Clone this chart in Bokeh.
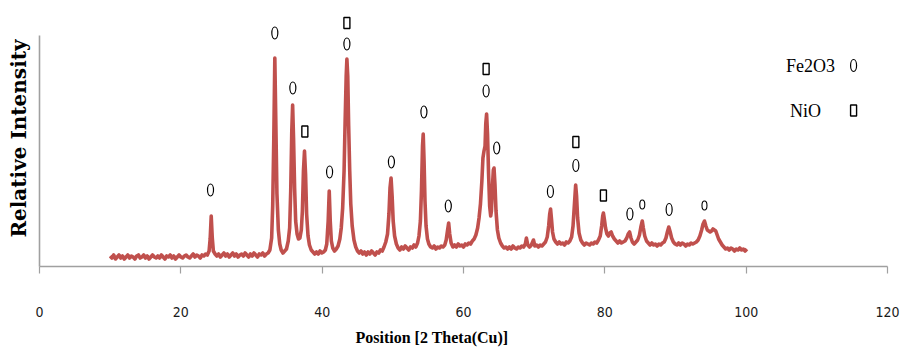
from bokeh.plotting import figure
from bokeh.models import Range1d, FixedTicker, Title
from bokeh.core.properties import value
from bokeh.embed import file_html
from bokeh.resources import INLINE

# XRD scan: (2-theta, relative intensity)
scan = [
    (10.0, 10), (10.25, 8), (10.5, 11), (10.75, 7), (11.0, 9), (11.25, 11), (11.5, 8), (11.75, 10),
    (12.0, 7), (12.25, 9), (12.5, 11), (12.75, 8), (13.0, 10), (13.25, 9), (13.5, 7), (13.75, 10),
    (14.0, 11), (14.25, 8), (14.5, 9), (14.75, 11), (15.0, 8), (15.25, 10), (15.5, 7), (15.75, 9),
    (16.0, 11), (16.25, 9), (16.5, 8), (16.75, 10), (17.0, 8), (17.25, 11), (17.5, 9), (17.75, 7),
    (18.0, 10), (18.25, 9), (18.5, 11), (18.75, 8), (19.0, 10), (19.25, 7), (19.5, 9), (19.75, 11),
    (20.0, 9), (20.25, 8), (20.5, 10), (20.75, 11), (21.0, 9), (21.25, 8), (21.5, 10), (21.75, 12),
    (22.0, 9), (22.25, 11), (22.5, 10), (22.75, 8), (23.0, 11), (23.25, 10), (23.5, 12),
    (23.75, 11), (24.0, 15), (24.15, 27), (24.3, 50), (24.45, 28), (24.6, 15), (24.85, 12),
    (25.1, 10), (25.35, 12), (25.6, 9), (25.85, 11), (26.1, 13), (26.35, 10), (26.6, 12), (26.85, 9),
    (27.1, 11), (27.35, 13), (27.6, 10), (27.85, 12), (28.1, 9), (28.35, 11), (28.6, 12), (28.85, 10),
    (29.1, 13), (29.35, 11), (29.6, 9), (29.85, 12), (30.1, 10), (30.35, 13), (30.6, 11), (30.85, 9),
    (31.1, 12), (31.35, 11), (31.6, 13), (31.85, 10), (32.1, 12), (32.35, 13), (32.6, 16),
    (32.85, 28), (33.0, 60), (33.15, 125), (33.3, 208), (33.45, 140), (33.6, 72), (33.8, 36),
    (34.0, 22), (34.2, 16), (34.45, 13), (34.7, 15), (34.95, 17), (35.2, 25),
    (35.4, 38), (35.55, 75), (35.7, 135), (35.82, 161), (35.95, 128), (36.1, 78), (36.25, 45),
    (36.45, 32), (36.65, 27), (36.85, 28), (37.05, 36), (37.2, 55),
    (37.35, 95), (37.5, 115), (37.65, 92), (37.8, 52), (38.0, 30), (38.2, 21), (38.45, 16),
    (38.7, 14), (38.95, 12), (39.2, 14), (39.45, 12), (39.7, 15), (39.95, 13), (40.2, 14),
    (40.45, 16), (40.65, 22), (40.85, 45), (41.0, 75), (41.15, 44), (41.3, 25), (41.5, 18),
    (41.75, 15), (42.0, 17), (42.25, 20), (42.5, 27), (42.7, 38), (42.9, 58), (43.1, 95),
    (43.25, 145), (43.4, 190), (43.5, 207), (43.62, 190), (43.75, 140), (43.9, 95), (44.05, 62),
    (44.25, 40), (44.5, 26), (44.75, 19), (45.0, 15),
    (45.25, 13), (45.5, 15), (45.75, 12), (46.0, 14), (46.25, 11), (46.5, 14), (46.75, 12),
    (47.0, 15), (47.25, 13), (47.5, 11), (47.75, 14), (48.0, 13), (48.25, 16), (48.5, 15), (48.75, 19),
    (49.0, 24), (49.25, 32), (49.45, 52), (49.6, 78), (49.75, 88), (49.9, 70), (50.05, 45),
    (50.25, 30), (50.5, 22), (50.75, 18), (51.0, 16),
    (51.25, 19), (51.5, 17), (51.75, 20), (52.0, 18), (52.25, 16), (52.5, 19), (52.75, 18),
    (53.0, 21), (53.25, 19), (53.5, 23),
    (53.7, 30), (53.9, 45), (54.05, 75), (54.2, 120), (54.3, 132), (54.42, 105), (54.55, 65),
    (54.7, 40), (54.9, 27), (55.1, 22), (55.35, 19),
    (55.6, 18), (55.85, 20), (56.1, 17), (56.35, 19), (56.6, 18), (56.85, 20), (57.1, 19),
    (57.35, 21), (57.55, 26), (57.75, 36), (57.9, 43), (58.05, 32), (58.25, 23), (58.5, 19),
    (58.75, 21), (59.0, 19), (59.25, 22), (59.5, 20), (59.75, 21), (60.0, 19), (60.25, 22),
    (60.5, 21), (60.75, 23), (61.0, 22), (61.25, 25), (61.5, 27), (61.75, 31), (62.0, 38),
    (62.2, 48), (62.4, 62), (62.6, 85), (62.75, 108), (62.9, 115), (63.05, 120), (63.15, 142),
    (63.27, 152), (63.4, 132), (63.55, 92), (63.7, 60), (63.85, 50), (63.95, 55), (64.1, 80),
    (64.22, 96), (64.32, 98), (64.45, 82), (64.6, 55), (64.8, 36), (65.0, 28), (65.25, 23), (65.5, 20),
    (65.75, 18), (66.0, 19), (66.25, 17), (66.5, 19), (66.75, 17), (67.0, 20), (67.25, 18),
    (67.5, 17), (67.75, 19), (68.0, 18), (68.25, 20), (68.5, 19), (68.75, 22), (68.9, 28),
    (69.1, 21), (69.35, 19), (69.6, 21), (69.9, 26), (70.1, 20), (70.35, 21), (70.6, 19),
    (70.85, 21), (71.1, 20), (71.35, 22), (71.6, 24),
    (71.85, 29), (72.05, 40), (72.2, 52), (72.32, 57), (72.45, 47), (72.6, 34), (72.8, 27),
    (73.05, 24), (73.3, 22), (73.55, 24), (73.8, 22), (74.05, 23), (74.3, 21), (74.55, 24),
    (74.8, 23), (75.05, 25), (75.3, 29),
    (75.5, 40), (75.7, 62), (75.87, 81), (76.0, 70), (76.15, 48), (76.35, 33), (76.6, 26),
    (76.85, 23), (77.1, 21), (77.35, 23), (77.6, 22), (77.85, 21), (78.1, 23), (78.35, 22),
    (78.6, 24), (78.85, 23), (79.1, 26),
    (79.35, 30), (79.55, 40), (79.7, 50), (79.8, 53), (79.95, 46), (80.1, 38), (80.3, 32),
    (80.5, 30), (80.7, 33), (80.9, 34), (81.1, 30), (81.35, 27), (81.6, 25), (81.85, 23),
    (82.1, 25), (82.35, 23), (82.6, 24), (82.85, 25),
    (83.1, 28), (83.3, 32), (83.5, 34), (83.7, 28), (83.9, 24), (84.15, 22), (84.4, 24), (84.65, 26),
    (84.9, 31), (85.1, 39), (85.3, 45), (85.45, 38), (85.65, 30), (85.9, 25), (86.15, 23),
    (86.4, 21), (86.65, 23), (86.9, 21), (87.15, 22), (87.4, 20), (87.65, 22), (87.9, 21),
    (88.15, 23), (88.4, 24),
    (88.65, 28), (88.85, 34), (89.05, 39), (89.25, 34), (89.45, 28), (89.7, 24), (89.95, 22),
    (90.2, 21), (90.45, 23), (90.7, 21), (90.95, 23), (91.2, 22), (91.45, 20), (91.7, 22),
    (91.95, 21), (92.2, 23), (92.45, 22), (92.7, 23), (92.95, 24), (93.2, 26),
    (93.45, 30), (93.7, 36), (93.9, 42), (94.1, 45), (94.3, 40), (94.5, 36), (94.7, 35),
    (94.9, 34), (95.1, 35), (95.3, 37), (95.5, 36), (95.7, 35), (95.9, 31), (96.1, 27),
    (96.35, 24), (96.6, 21), (96.85, 19), (97.1, 17), (97.35, 18), (97.6, 16), (97.85, 18),
    (98.1, 17), (98.35, 15), (98.6, 17), (98.85, 16), (99.1, 18), (99.35, 16), (99.6, 17),
    (99.85, 15), (100.1, 17),
]
two_theta = [p[0] for p in scan]
intensity = [p[1] for p in scan]

# phase markers above the peaks
fe2o3_x = [24.2, 33.3, 35.85, 41.05, 43.5, 49.8, 54.4, 57.85, 63.2, 64.7, 72.3, 75.9, 83.55, 89.1]
fe2o3_y = [76, 233, 178, 94, 222, 104, 154, 60, 175, 118, 74.5, 100.5, 52, 56.5]
fe2o3_small_x = [85.3, 94.1]
fe2o3_small_y = [61.5, 60.5]
nio_x = [37.55, 43.5, 63.2, 75.9, 79.8]
nio_y = [134.5, 243, 197, 124, 70.5]

x_ticks = [0, 20, 40, 60, 80, 100, 120]
x_title = "Position [2 Theta(Cu)]"
y_title = "Relative Intensity"
legend_labels = ["Fe2O3", "NiO"]
legend_text_x = [109.1, 108.4]
legend_y = [200.5, 155.5]
legend_mark_x = 115.2

p = figure(width=903, height=356, output_backend="svg", toolbar_location=None,
           x_range=Range1d(0, 120), y_range=Range1d(-0.5, 255.5),
           min_border_left=39, min_border_right=16, min_border_top=10, min_border_bottom=90)
p.outline_line_color = None
p.xgrid.visible = False
p.ygrid.visible = False
p.background_fill_color = "white"

p.line(two_theta, intensity, line_color="#c0504d", line_width=3.6, line_join="round")

p.ellipse(x=fe2o3_x, y=fe2o3_y, width=6, height=12, width_units="screen", height_units="screen",
          fill_color=None, line_color="black", line_width=1.2)
p.ellipse(x=fe2o3_small_x, y=fe2o3_small_y, width=5, height=9, width_units="screen", height_units="screen",
          fill_color=None, line_color="black", line_width=1.1)
p.rect(x=nio_x, y=nio_y, width=6, height=11, width_units="screen", height_units="screen",
       fill_color=None, line_color="black", line_width=1.4)

# legend
p.text(x=legend_text_x, y=legend_y, text=legend_labels, text_font=value("Liberation Serif"),
       text_font_size="18px", text_align="center", text_baseline="middle", text_color="black")
p.ellipse(x=[legend_mark_x], y=[legend_y[0]], width=6, height=12, width_units="screen", height_units="screen",
          fill_color=None, line_color="black", line_width=1.2)
p.rect(x=[legend_mark_x], y=[legend_y[1]], width=6, height=11, width_units="screen", height_units="screen",
       fill_color=None, line_color="black", line_width=1.4)

# x axis
xa = p.xaxis[0]
xa.ticker = FixedTicker(ticks=x_ticks)
xa.minor_tick_line_color = None
xa.major_tick_in = 0
xa.major_tick_out = 7
xa.axis_line_color = "#a0a0a0"
xa.axis_line_width = 1.6
xa.major_tick_line_color = "#a0a0a0"
xa.major_tick_line_width = 1.2
xa.major_label_text_font = "DejaVu Sans Condensed"
xa.major_label_text_font_size = "14px"
xa.major_label_text_color = "#1a1a1a"
xa.major_label_standoff = 33

# x title below the axis, starting left of the frame centre as in the original
p.add_layout(Title(text=x_title, align="left", offset=316, standoff=14,
                   text_font="Liberation Serif", text_font_style="bold", text_font_size="16px",
                   text_color="black"), "below")

# y axis
ya = p.yaxis[0]
ya.ticker = FixedTicker(ticks=[])
ya.bounds = (0, 231)
ya.minor_tick_line_color = None
ya.major_tick_line_color = None
ya.major_tick_in = 0
ya.major_tick_out = 0
ya.axis_line_color = "#a0a0a0"
ya.axis_line_width = 1.6
ya.axis_label = y_title
ya.axis_label_text_font = "DejaVu Serif"
ya.axis_label_text_font_style = "bold"
ya.axis_label_text_font_size = "20px"
ya.axis_label_text_color = "black"
ya.axis_label_standoff = 9

open("out.html", "w").write(file_html(p, INLINE))
